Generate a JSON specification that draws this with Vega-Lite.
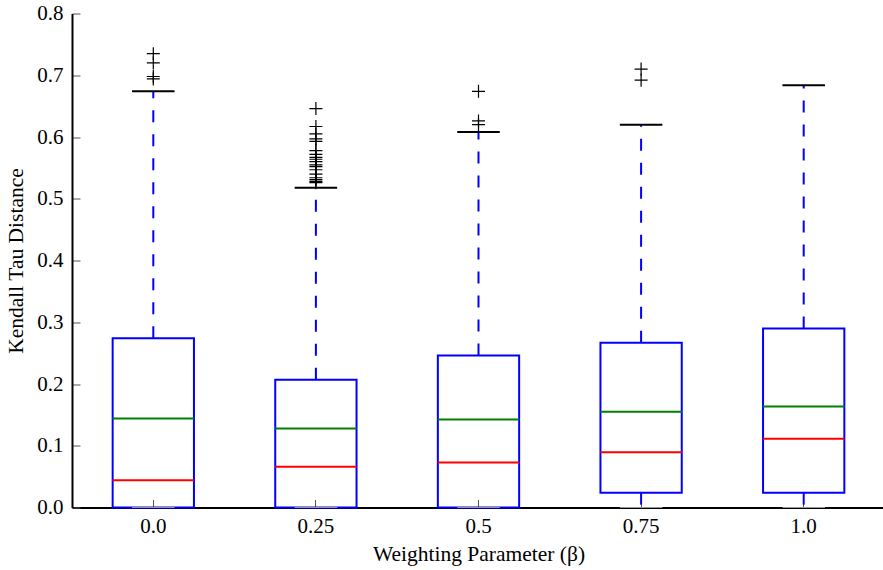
{
  "$schema": "https://vega.github.io/schema/vega-lite/v6.json",
  "width": 813,
  "height": 494,
  "autosize": {"type": "none"},
  "padding": {"left": 72, "top": 13.5, "right": 0, "bottom": 62.5},
  "config": {
    "view": {"stroke": null}
  },
  "datasets": {
    "boxes": [
      {"beta": "0.0", "q1": 0.0, "q3": 0.274, "median": 0.044, "mean": 0.144, "lo": 0.0, "hi": 0.674},
      {"beta": "0.25", "q1": 0.0, "q3": 0.207, "median": 0.066, "mean": 0.128, "lo": 0.0, "hi": 0.518},
      {"beta": "0.5", "q1": 0.0, "q3": 0.246, "median": 0.073, "mean": 0.1425, "lo": 0.0, "hi": 0.608},
      {"beta": "0.75", "q1": 0.024, "q3": 0.267, "median": 0.0895, "mean": 0.155, "lo": 0.0, "hi": 0.620},
      {"beta": "1.0", "q1": 0.024, "q3": 0.290, "median": 0.1115, "mean": 0.1635, "lo": 0.0, "hi": 0.684}
    ],
    "fliers": [
      {"beta": "0.0", "v": 0.735},
      {"beta": "0.0", "v": 0.720},
      {"beta": "0.0", "v": 0.698},
      {"beta": "0.0", "v": 0.694},
      {"beta": "0.25", "v": 0.646},
      {"beta": "0.25", "v": 0.617},
      {"beta": "0.25", "v": 0.605},
      {"beta": "0.25", "v": 0.597},
      {"beta": "0.25", "v": 0.593},
      {"beta": "0.25", "v": 0.578},
      {"beta": "0.25", "v": 0.572},
      {"beta": "0.25", "v": 0.567},
      {"beta": "0.25", "v": 0.564},
      {"beta": "0.25", "v": 0.560},
      {"beta": "0.25", "v": 0.555},
      {"beta": "0.25", "v": 0.552},
      {"beta": "0.25", "v": 0.547},
      {"beta": "0.25", "v": 0.540},
      {"beta": "0.25", "v": 0.534},
      {"beta": "0.25", "v": 0.531},
      {"beta": "0.25", "v": 0.528},
      {"beta": "0.25", "v": 0.526},
      {"beta": "0.5", "v": 0.674},
      {"beta": "0.5", "v": 0.626},
      {"beta": "0.5", "v": 0.620},
      {"beta": "0.75", "v": 0.710},
      {"beta": "0.75", "v": 0.692}
    ]
  },
  "encoding": {
    "x": {
      "field": "beta",
      "type": "nominal",
      "sort": ["0.0", "0.25", "0.5", "0.75", "1.0"],
      "scale": {"paddingInner": 0.5, "paddingOuter": 0.25},
      "axis": {
        "title": "Weighting Parameter (β)",
        "labelAngle": 0,
        "labelFont": "Liberation Serif",
        "titleFont": "Liberation Serif",
        "labelFontSize": 21,
        "titleFontSize": 21.5,
        "titleFontWeight": "normal",
        "labelColor": "black",
        "titleColor": "black",
        "domainColor": "black",
        "domainWidth": 2,
        "tickColor": "#555",
        "tickWidth": 1,
        "tickSize": -8,
        "labelPadding": 16,
        "titlePadding": 7,
        "grid": false
      }
    }
  },
  "layer": [
    {
      "data": {"name": "boxes"},
      "mark": {"type": "rule", "color": "#0000ff", "strokeWidth": 2, "strokeDash": [12, 12]},
      "encoding": {
        "y": {
          "field": "q3",
          "type": "quantitative",
          "scale": {"domain": [0, 0.8], "nice": false, "zero": false},
          "axis": {
            "title": "Kendall Tau Distance",
            "values": [0, 0.1, 0.2, 0.3, 0.4, 0.5, 0.6, 0.7, 0.8],
            "format": ".1f",
            "labelFont": "Liberation Serif",
            "titleFont": "Liberation Serif",
            "labelFontSize": 21,
            "titleFontSize": 21.5,
            "titleFontWeight": "normal",
            "labelColor": "black",
            "titleColor": "black",
            "domainColor": "black",
            "domainWidth": 2,
            "tickColor": "#555",
            "tickWidth": 1,
            "tickSize": -8,
            "labelPadding": 17,
            "titlePadding": 9,
            "grid": false
          }
        },
        "y2": {"field": "hi"}
      }
    },
    {
      "data": {"name": "boxes"},
      "mark": {"type": "rule", "color": "#0000ff", "strokeWidth": 2, "strokeDash": [12, 12]},
      "encoding": {
        "y": {"field": "q1", "type": "quantitative"},
        "y2": {"field": "lo"}
      }
    },
    {
      "data": {"name": "boxes"},
      "mark": {"type": "bar", "filled": false, "stroke": "#0000ff", "strokeWidth": 2},
      "encoding": {
        "y": {"field": "q1", "type": "quantitative"},
        "y2": {"field": "q3"}
      }
    },
    {
      "data": {"name": "boxes"},
      "mark": {"type": "tick", "orient": "horizontal", "color": "#ff0000", "thickness": 2, "size": 81.5, "opacity": 1},
      "encoding": {
        "y": {"field": "median", "type": "quantitative"}
      }
    },
    {
      "data": {"name": "boxes"},
      "mark": {"type": "tick", "orient": "horizontal", "color": "#008000", "thickness": 2, "size": 81.5, "opacity": 1},
      "encoding": {
        "y": {"field": "mean", "type": "quantitative"}
      }
    },
    {
      "data": {"name": "boxes"},
      "mark": {"type": "tick", "orient": "horizontal", "color": "black", "thickness": 2, "size": 42.5, "opacity": 1},
      "encoding": {
        "y": {"field": "hi", "type": "quantitative"}
      }
    },
    {
      "data": {"name": "boxes"},
      "mark": {"type": "tick", "orient": "horizontal", "color": "#999", "thickness": 1, "size": 42.5, "opacity": 1},
      "encoding": {
        "y": {"field": "lo", "type": "quantitative"}
      }
    },
    {
      "data": {"name": "fliers"},
      "mark": {"type": "point", "shape": "M-1,0L1,0M0,-1L0,1", "filled": false, "stroke": "black", "strokeWidth": 1.2, "size": 169, "opacity": 1},
      "encoding": {
        "y": {"field": "v", "type": "quantitative"}
      }
    }
  ]
}
